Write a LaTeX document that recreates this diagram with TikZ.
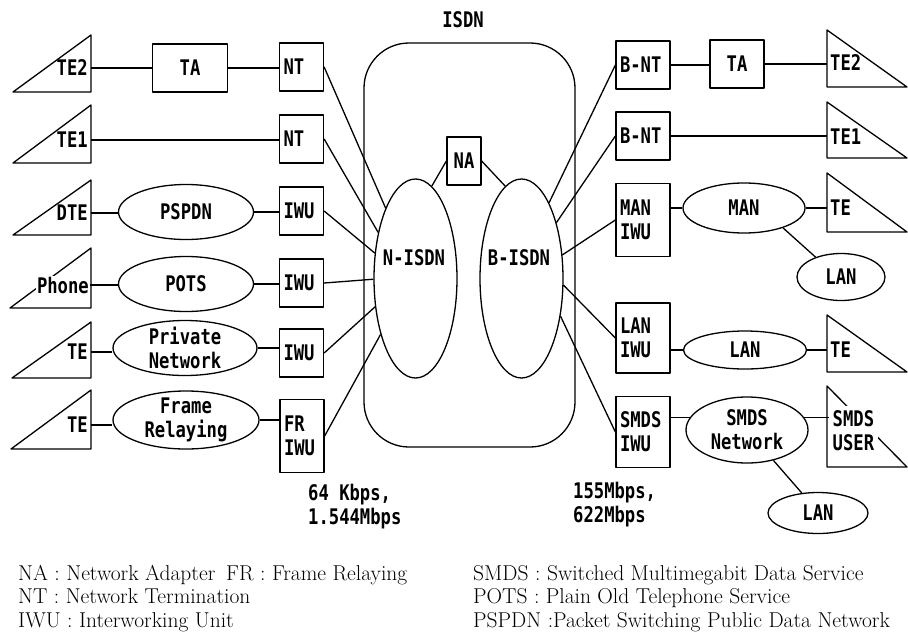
\documentclass[tikz,border=0pt]{standalone}
\usepackage{fontspec}
\usepackage{tikz}
\usetikzlibrary{shapes.geometric}
\newfontfamily\lblfont{DejaVu Sans Mono}[FakeStretch=0.8]
\newcommand\lblsize{\lblfont\bfseries\fontsize{21.5}{24}\selectfont}
\newcommand\legsize{\fontsize{21.5}{23.5}\selectfont}

\tikzset{
  link/.style={line width=1.3pt},
  unit/.style={draw, link, minimum height=48pt, inner xsep=4pt, inner ysep=2pt, font=\lblsize, align=left},
  lunit/.style={unit, text width=36pt},
  runit/.style={unit, text width=46pt},
  net/.style={draw, ellipse, link, inner xsep=0pt, inner ysep=-3pt, font=\lblsize, align=center},
  term/.style={font=\lblsize, inner sep=3pt, align=left},
}

\begin{document}
\begin{tikzpicture}[x=1pt, y=-1pt, line join=round]
  \useasboundingbox (0,0) rectangle (908,635);

  % ISDN core
  \node[font=\lblsize] (isdnlbl) at (463,20) {ISDN};
  \node[draw, link, rounded corners=45pt, minimum width=211pt, minimum height=404pt] (isdn) at (469.5,245) {};
  \node[net, minimum width=83pt, minimum height=199pt] (nisdn) at (415.5,278.5) {};
  \node[net, minimum width=83pt, minimum height=199pt] (bisdn) at (521.5,278.5) {};
  \node[font=\lblsize] (nisdnlbl) at (414,258) {N-ISDN};
  \node[font=\lblsize] (bisdnlbl) at (519,258) {B-ISDN};
  \node[unit, minimum width=34pt] (na) at (464,161) {NA};
  \draw[link] (na.west) -- (nisdn.80);
  \draw[link] (na.east) -- (bisdn.100);

  % left terminals
  \draw[link] (13,92) -- (91,35) -- (91,92) -- cycle;
  \draw[link] (13,163) -- (91,105) -- (91,163) -- cycle;
  \draw[link] (13,235) -- (91,180) -- (91,235) -- cycle;
  \draw[link] (10,308) -- (91,248) -- (91,308) -- cycle;
  \draw[link] (12,378) -- (91,322) -- (91,378) -- cycle;
  \draw[link] (11,449) -- (91,390) -- (91,449) -- cycle;
  \node[term, anchor=east] (te2l) at (91,68) {TE2};
  \node[term, anchor=east] (te1l) at (91,140) {TE1};
  \node[term, anchor=east] (dte) at (91,213) {DTE};
  \node[term, anchor=east, fill=white, inner sep=1pt] (phone) at (90,285) {Phone};
  \node[term, anchor=east] (tel5) at (91,352) {TE};
  \node[term, anchor=east] (tel6) at (91,425) {TE};

  % left networks and units
  \node[unit, minimum width=75pt, align=center] (tal) at (190,68) {TA};
  \node[lunit] (nt1) at (301.5,67) {NT};
  \node[lunit] (nt2) at (301.5,139) {NT};
  \node[net, minimum width=135pt, minimum height=55pt] (pspdn) at (186,212) {PSPDN};
  \node[lunit] (iwu1) at (301.5,211) {IWU};
  \node[net, minimum width=135pt, minimum height=55pt] (pots) at (186,284) {POTS};
  \node[lunit] (iwu2) at (301.5,283) {IWU};
  \node[net, minimum width=144pt, minimum height=55pt] (privnet) at (185,348) {Private\\Network};
  \node[lunit] (iwu3) at (301.5,353) {IWU};
  \node[net, minimum width=146pt, minimum height=58pt] (frelay) at (186,420) {Frame\\Relaying};
  \node[lunit, minimum height=73pt] (friwu) at (302,436) {FR\\IWU};

  \draw[link] (te2l.east) -- (tal.west);
  \draw[link] (tal.east) -- (tal.east -| nt1.west);
  \draw[link] (te1l.east) -- (te1l.east -| nt2.west);
  \draw[link] (dte.east) -- (dte.east -| pspdn.west);
  \draw[link] (pspdn.east) -- (pspdn.east -| iwu1.west);
  \draw[link] (phone.east) -- (phone.east -| pots.west);
  \draw[link] (pots.east) -- (pots.east -| iwu2.west);
  \draw[link] (tel5.east) -- (tel5.east -| privnet.west);
  \draw[link] (privnet.east) -- (privnet.east -| iwu3.west);
  \draw[link] (tel6.east) -- (tel6.east -| frelay.west);
  \draw[link] (frelay.east) -- (frelay.east -| friwu.west);

  \draw[link] (nt1.east) -- (nisdn.113);
  \draw[link] (nt2.east) -- (nisdn.129);
  \draw[link] (iwu1.east) -- (nisdn.148);
  \draw[link] (iwu2.east) -- (nisdn.181);
  \draw[link] (iwu3.east) -- (nisdn.215);
  \draw[link] (friwu.east) -- (nisdn.238);

  % right terminals
  \draw[link] (827,30) -- (827,87) -- (907,87) -- cycle;
  \draw[link] (827,102) -- (827,158) -- (907,158) -- cycle;
  \draw[link] (827,173) -- (827,232) -- (907,232) -- cycle;
  \draw[link] (827,315) -- (827,372) -- (907,372) -- cycle;
  \draw[link] (827,386) -- (827,467) -- (907,467) -- cycle;
  \node[term, anchor=west] (te2r) at (827,63) {TE2};
  \node[term, anchor=west] (te1r) at (827,137) {TE1};
  \node[term, anchor=west] (te3r) at (827,208) {TE};
  \node[term, anchor=west] (te4r) at (827,350) {TE};
  \node[term, anchor=west, fill=white, inner sep=4pt] (smdsuser) at (828.5,430.5) {SMDS\\USER};

  % right networks and units
  \node[runit] (bnt1) at (643,65) {B-NT};
  \node[unit, minimum width=54pt, align=center] (tar) at (737,64) {TA};
  \node[runit] (bnt2) at (643,136) {B-NT};
  \node[runit, minimum height=73pt] (maniwu) at (643,220) {MAN\\IWU};
  \node[net, minimum width=122pt, minimum height=50pt] (man) at (744,208) {MAN};
  \node[net, minimum width=88pt, minimum height=47pt] (lan1) at (841,277) {LAN};
  \node[runit, minimum height=70pt] (laniwu) at (643,338) {LAN\\IWU};
  \node[net, minimum width=123pt, minimum height=38pt] (lan2) at (745,350) {LAN};
  \node[runit, minimum height=71pt] (smdsiwu) at (643,432) {SMDS\\IWU};
  \node[net, minimum width=122pt, minimum height=66pt] (smdsnet) at (747,430) {SMDS\\Network};
  \node[net, minimum width=100pt, minimum height=41pt] (lan3) at (818,513) {LAN};

  \draw[link] (bnt1.east) -- (bnt1.east -| tar.west);
  \draw[link] (tar.east) -- (tar.east -| te2r.west);
  \draw[link] (bnt2.east) -- (bnt2.east -| te1r.west);
  \draw[link] (maniwu.east |- man.west) -- (man.west);
  \draw[link] (man.east) -- (man.east -| te3r.west);
  \draw[link] (man.-27) -- (lan1.142);
  \draw[link] (laniwu.east |- lan2.west) -- (lan2.west);
  \draw[link] (lan2.east) -- (lan2.east -| te4r.west);
  \draw[link] (smdsiwu.east |- smdsnet.168) -- (smdsnet.168);
  \draw[link] (smdsnet.12) -- (smdsnet.12 -| smdsuser.west);
  \draw[link] (smdsnet.-49) -- (lan3.129);

  \draw[link] (bnt1.west) -- (bisdn.70);
  \draw[link] (bnt2.west) -- (bisdn.58);
  \draw[link] (maniwu.west) -- (bisdn.30);
  \draw[link] (laniwu.west) -- (bisdn.-9);
  \draw[link] (smdsiwu.west) -- (bisdn.-44);

  % rates and legend
  \node[term, anchor=west, inner sep=0pt] (ratel) at (308,507) {64 Kbps,\\1.544Mbps};
  \node[term, anchor=west, inner sep=0pt] (rater) at (573,505) {155Mbps,\\622Mbps};
  \node[anchor=north west, align=left, inner sep=0pt, font=\legsize] (legl) at (18,565)
    {NA : Network Adapter\enspace FR : Frame Relaying\\NT : Network Termination\\IWU : Interworking Unit};
  \node[anchor=north west, align=left, inner sep=0pt, font=\legsize] (legr) at (473,565)
    {SMDS : Switched Multimegabit Data Service\\POTS : Plain Old Telephone Service\\PSPDN :Packet Switching Public Data Network};
\end{tikzpicture}
\end{document}
